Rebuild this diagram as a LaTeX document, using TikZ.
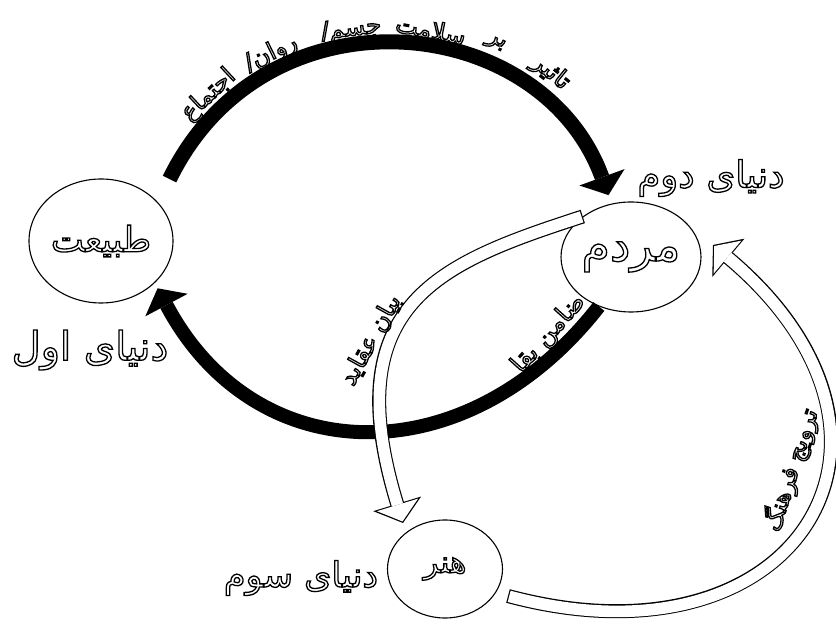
\documentclass[tikz,border=0pt]{standalone}
\usepackage{fontspec}
\usetikzlibrary{shapes.geometric, arrows.meta}
\newfontfamily\farsi[Script=Arabic]{DejaVu Sans}
\TeXXeTstate=1
% outlined persian text, right to left
\newcommand{\fa}[1]{\special{pdf:literal direct 1 Tr 1.3 w}\beginR #1\endR\special{pdf:literal direct 0 Tr}}

\begin{document}
\begin{tikzpicture}[x=1pt, y=1pt,
    world/.style={ellipse, draw, line width=1.1pt, inner sep=0pt},
    worldname/.style={inner sep=0pt},
    arctext/.style={font=\farsi\fontsize{24}{28}\selectfont, inner sep=0pt},
    blackarc/.style={line width=15pt, -{Triangle[width=48pt, length=19pt, line width=0pt]}},
    hollowout/.style={draw=black, line width=14pt, -{Triangle[width=50pt, length=20pt, line width=0pt]}},
    hollowin/.style={draw=white, line width=11.6pt, shorten <=1.2pt, shorten >=1.6pt, -{Triangle[width=43pt, length=17.3pt, line width=0pt]}}]
    \useasboundingbox (0, 0) rectangle (836, 624);

    % The three worlds
    \node[world, minimum width=144pt, minimum height=124pt, font=\farsi\fontsize{35}{40}\selectfont] (tab) at (101, 383) {\fa{طبیعت}};
    \node[world, minimum width=117pt, minimum height=110pt, font=\farsi\fontsize{46}{50}\selectfont] (mar) at (631, 367) {\fa{مردم}};
    \node[world, minimum width=115pt, minimum height=98pt, font=\farsi\fontsize{31}{36}\selectfont] (honar) at (445, 55) {\fa{هنر}};

    \node[worldname, font=\farsi\fontsize{40}{44}\selectfont] (firstw) at (90, 274) {\fa{دنیای اول}};
    \node[worldname, font=\farsi\fontsize{37}{42}\selectfont] (secondw) at (711, 446) {\fa{دنیای دوم}};
    \node[worldname, font=\farsi\fontsize{35}{40}\selectfont] (thirdw) at (301, 46) {\fa{دنیای سوم}};

    % Black arcs between nature and people
    \draw[blackarc, shorten <=26pt, shorten >=9pt] (tab.34) to[out=64, in=110, out distance=245pt, in distance=205pt] (mar.110);
    \draw[blackarc, line width=14pt, shorten >=6pt] (mar.237) to[out=232, in=-62, distance=215pt] (tab.322);

    % Hollow arcs through art
    \coordinate (toArt) at (403, 101);
    \coordinate (fromArt) at (508, 28);
    \coordinate (toPeople) at (713, 379);
    \draw[hollowout] (mar.140) to[out=198, in=107, out distance=150pt, in distance=230pt] (toArt);
    \draw[hollowin] (mar.140) to[out=198, in=107, out distance=150pt, in distance=230pt] (toArt);
    \draw[hollowout] (fromArt) to[out=-15, in=-40, distance=300pt] (toPeople);
    \draw[hollowin] (fromArt) to[out=-15, in=-40, distance=300pt] (toPeople);

    % Words along the top arc
    \coordinate (topc) at (382, 343);
    \foreach \ang/\rad/\word [count=\i] in {133/254/{اجتماع}, 116/253/{روان/}, 97/253/{جسم/}, 79/256/{سلامت}, 64.5/263/{بر}, 51/268/{تاثیر}} {
        \node[arctext, rotate=\ang-90] (topw\i) at ([shift={(\ang:\rad)}]topc) {\fa{\word}};
    }

    % Words along the other arcs
    \node[arctext, font=\farsi\fontsize{25}{28}\selectfont, rotate=48] (keep) at (549, 290) {\fa{ضامن بقا}};
    \node[arctext, rotate=61] (beliefs) at (371, 284) {\fa{بیان عقاید}};
    \node[arctext, rotate=72] (culture) at (791, 154) {\fa{ترویج فرهنگ}};
\end{tikzpicture}
\end{document}
